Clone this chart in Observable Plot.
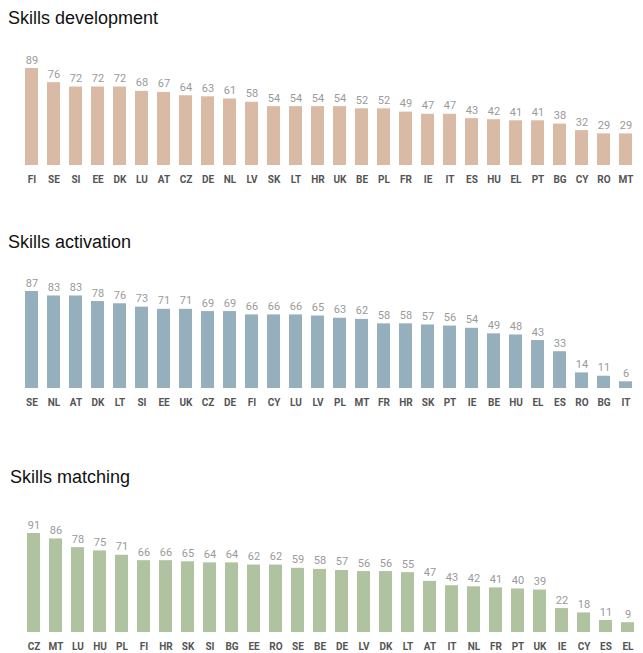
<!DOCTYPE html>
<html>
<head>
<meta charset="utf-8">
<script src="https://cdn.jsdelivr.net/npm/d3@7"></script>
<script src="https://cdn.jsdelivr.net/npm/@observablehq/plot@0.6"></script>
<style>
  html, body { margin: 0; padding: 0; background: #fff; overflow: hidden; width: 643px; height: 653px; }
  .title { position: absolute; font-family: "Liberation Sans", Arial, sans-serif; font-size: 18px; line-height: 22px; color: #111; white-space: nowrap; }
  .chart { position: absolute; left: 0; width: 660px; }
  .chart svg { overflow: visible; max-width: none !important; width: 660px !important; }
</style>
</head>
<body>
<div class="title" style="left:8px; top:7px;">Skills development</div>
<div class="chart" id="c1" style="top:40px;"></div>
<div class="title" style="left:8px; top:231px;">Skills activation</div>
<div class="chart" id="c2" style="top:263px;"></div>
<div class="title" style="left:10px; top:466px;">Skills matching</div>
<div class="chart" id="c3" style="top:505px;"></div>
<script>
// Skills development
const devCountries = ["FI","SE","SI","EE","DK","LU","AT","CZ","DE","NL","LV","SK","LT","HR","UK","BE","PL","FR","IE","IT","ES","HU","EL","PT","BG","CY","RO","MT"];
const devValues    = [89,76,72,72,72,68,67,64,63,61,58,54,54,54,54,52,52,49,47,47,43,42,41,41,38,32,29,29];

// Skills activation
const actCountries = ["SE","NL","AT","DK","LT","SI","EE","UK","CZ","DE","FI","CY","LU","LV","PL","MT","FR","HR","SK","PT","IE","BE","HU","EL","ES","RO","BG","IT"];
const actValues    = [87,83,83,78,76,73,71,71,69,69,66,66,66,65,63,62,58,58,57,56,54,49,48,43,33,14,11,6];

// Skills matching
const matCountries = ["CZ","MT","LU","HU","PL","FI","HR","SK","SI","BG","EE","RO","SE","BE","DE","LV","DK","LT","AT","IT","NL","FR","PT","UK","IE","CY","ES","EL"];
const matValues    = [91,86,78,75,71,66,66,65,64,64,62,62,59,58,57,56,56,55,47,43,42,41,40,39,22,18,11,9];

const colors = { dev: "#d9baa4", act: "#96afbd", mat: "#b0c3a0" };

function makeChart(countries, values, color, opts) {
  const data = countries.map((c, i) => ({ country: c, value: values[i] }));
  const maxV = d3.max(values);
  return Plot.plot({
    width: 660,
    height: opts.height,
    marginLeft: opts.marginLeft,
    marginRight: opts.marginRight,
    marginTop: 28,
    marginBottom: 30,
    style: { fontFamily: "Roboto, sans-serif", background: "transparent" },
    x: { domain: countries, paddingInner: 0.4, paddingOuter: 0.2, axis: null },
    y: { domain: [0, maxV], axis: null },
    marks: [
      Plot.barY(data, { x: "country", y: "value", fill: color }),
      Plot.text(data, { x: "country", y: "value", text: d => String(d.value), dy: -5, lineAnchor: "bottom", fill: "#9a9a9a", fontSize: 11 }),
      Plot.axisX({ tickSize: 0, tickPadding: 10, fontSize: 10, fontWeight: "bold", fill: "#555", label: null })
    ]
  });
}

document.getElementById("c1").appendChild(makeChart(devCountries, devValues, colors.dev, { height: 155, marginLeft: 11, marginRight: 13 }));
document.getElementById("c2").appendChild(makeChart(actCountries, actValues, colors.act, { height: 155, marginLeft: 11, marginRight: 13 }));
document.getElementById("c3").appendChild(makeChart(matCountries, matValues, colors.mat, { height: 157, marginLeft: 10, marginRight: 9 }));
</script>
</body>
</html>
